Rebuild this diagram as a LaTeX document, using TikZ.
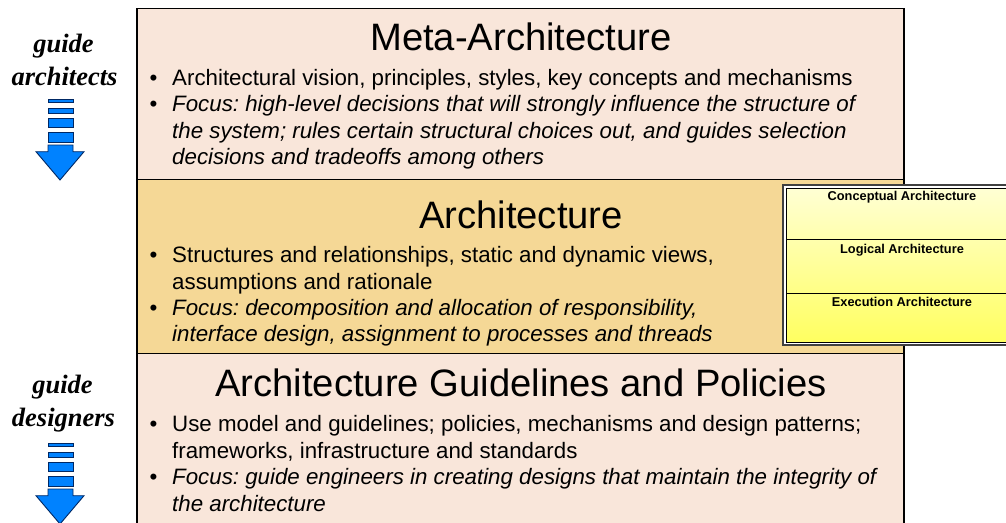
\documentclass[tikz,border=0pt]{standalone}
\usepackage{fontspec}
\setmainfont{Liberation Sans}
\newfontfamily\guideserif{Liberation Serif}
\frenchspacing
\definecolor{peach}{RGB}{249,230,218}
\definecolor{tan}{RGB}{245,216,150}
\definecolor{arrowblue}{RGB}{0,130,255}
\definecolor{arrowline}{RGB}{0,40,100}
\definecolor{ylight}{RGB}{255,255,212}
\definecolor{ydark}{RGB}{255,255,96}
\tikzset{
  titletext/.style={font=\fontsize{38.2}{45}\selectfont, anchor=base, inner sep=0pt},
  bodytext/.style={font=\fontsize{22.3}{26.4}\selectfont, anchor=base west, inner sep=0pt},
  bodyital/.style={font=\fontsize{22.3}{26.4}\selectfont\itshape, anchor=base west, inner sep=0pt},
  bulletmark/.style={font=\fontsize{22.3}{26.4}\selectfont, anchor=base, inner sep=0pt},
  guidetext/.style={font=\guideserif\bfseries\itshape\fontsize{26.5}{30}\selectfont, anchor=base, inner sep=0pt},
  subtext/.style={font=\bfseries\fontsize{12.8}{15}\selectfont, anchor=base, inner sep=0pt},
  bandline/.style={line width=1pt, draw=black},
  arrowpart/.style={fill=arrowblue, draw=arrowline, line width=0.9pt, line join=miter}
}
\begin{document}
\begin{tikzpicture}[x=1pt,y=-1pt]
\useasboundingbox (0,0) rectangle (1006,522);
\clip (0,0) rectangle (1006,522);
\fill[white] (0,0) rectangle (1006,522);
% bands
\fill[peach] (137,8.5) rectangle (904,179);
\fill[tan] (137,179) rectangle (904,353);
\fill[peach] (137,353) rectangle (904,535);
\draw[bandline] (137,179) -- (904,179);
\draw[bandline] (137,353) -- (904,353);
\draw[line width=1.5pt] (137,535) -- (137,8.5) -- (904,8.5) -- (904,535);
% Meta-Architecture
\node[titletext] (metatitle) at (521,50.5) {Meta-Architecture};
\node[bulletmark] (mb1) at (153.5,85.5) {•};
\node[bodytext] (m1) at (172,85.5) {Architectural vision, principles, styles, key concepts and mechanisms};
\node[bulletmark] (mb2) at (153.5,111.8) {•};
\node[bodyital] (m2) at (172,111.8) {Focus: high-level decisions that will strongly influence the structure of};
\node[bodyital] (m3) at (172,138.2) {the system; rules certain structural choices out, and guides selection};
\node[bodyital] (m4) at (172,164.5) {decisions and tradeoffs among others};
% Architecture
\node[titletext] (archtitle) at (521,228) {Architecture};
\node[bulletmark] (ab1) at (153.5,262.7) {•};
\node[bodytext] (a1) at (172,262.7) {Structures and relationships, static and dynamic views,};
\node[bodytext] (a2) at (172,289) {assumptions and rationale};
\node[bulletmark] (ab2) at (153.5,315.4) {•};
\node[bodyital] (a3) at (172,315.4) {Focus: decomposition and allocation of responsibility,};
\node[bodyital] (a4) at (172,341.7) {interface design, assignment to processes and threads};
% Guidelines
\node[titletext] (guidetitle) at (521,396.5) {Architecture Guidelines and Policies};
\node[bulletmark] (gb1) at (153.5,431.7) {•};
\node[bodytext] (g1) at (172,431.7) {Use model and guidelines; policies, mechanisms and design patterns;};
\node[bodytext] (g2) at (172,458) {frameworks, infrastructure and standards};
\node[bulletmark] (gb2) at (153.5,484.5) {•};
\node[bodyital] (g3) at (172,484.5) {Focus: guide engineers in creating designs that maintain the integrity of};
\node[bodyital] (g4) at (172,511) {the architecture};
% small stacked box
\fill[white] (783,185) rectangle (1012,345);
\draw[line width=1.5pt, draw=black!75] (783,185) rectangle (1012,345);
\shade[top color=ylight, bottom color=ydark] (786,188) rectangle (1012,342);
\draw[line width=0.8pt] (786,188) rectangle (1012,342);
\draw[line width=0.8pt] (786,239.3) -- (1012,239.3);
\draw[line width=0.8pt] (786,293) -- (1012,293);
\node[subtext] (conc) at (902,200.7) {Conceptual Architecture};
\node[subtext] (logi) at (902,253.3) {Logical Architecture};
\node[subtext] (exec) at (902,306.7) {Execution Architecture};
% left labels
\node[guidetext] (ga1) at (63.5,52.7) {guide};
\node[guidetext] (ga2) at (64.5,85) {architects};
\node[guidetext] (gd1) at (62.5,393) {guide};
\node[guidetext] (gd2) at (63.5,426.7) {designers};
% arrows
\foreach \dy in {0,344}{
  \begin{scope}[yshift=-\dy pt]
    \draw[arrowpart] (48,99) rectangle (73,102.5);
    \draw[arrowpart] (48,108) rectangle (73,113.5);
    \draw[arrowpart] (48,118) rectangle (73,127.5);
    \draw[arrowpart] (48,132) rectangle (73,142);
    \draw[arrowpart] (48,145) -- (73,145) -- (73,151.7) -- (84,151.7) -- (60,180) -- (36,151.7) -- (48,151.7) -- cycle;
  \end{scope}
}
\end{tikzpicture}
\end{document}
